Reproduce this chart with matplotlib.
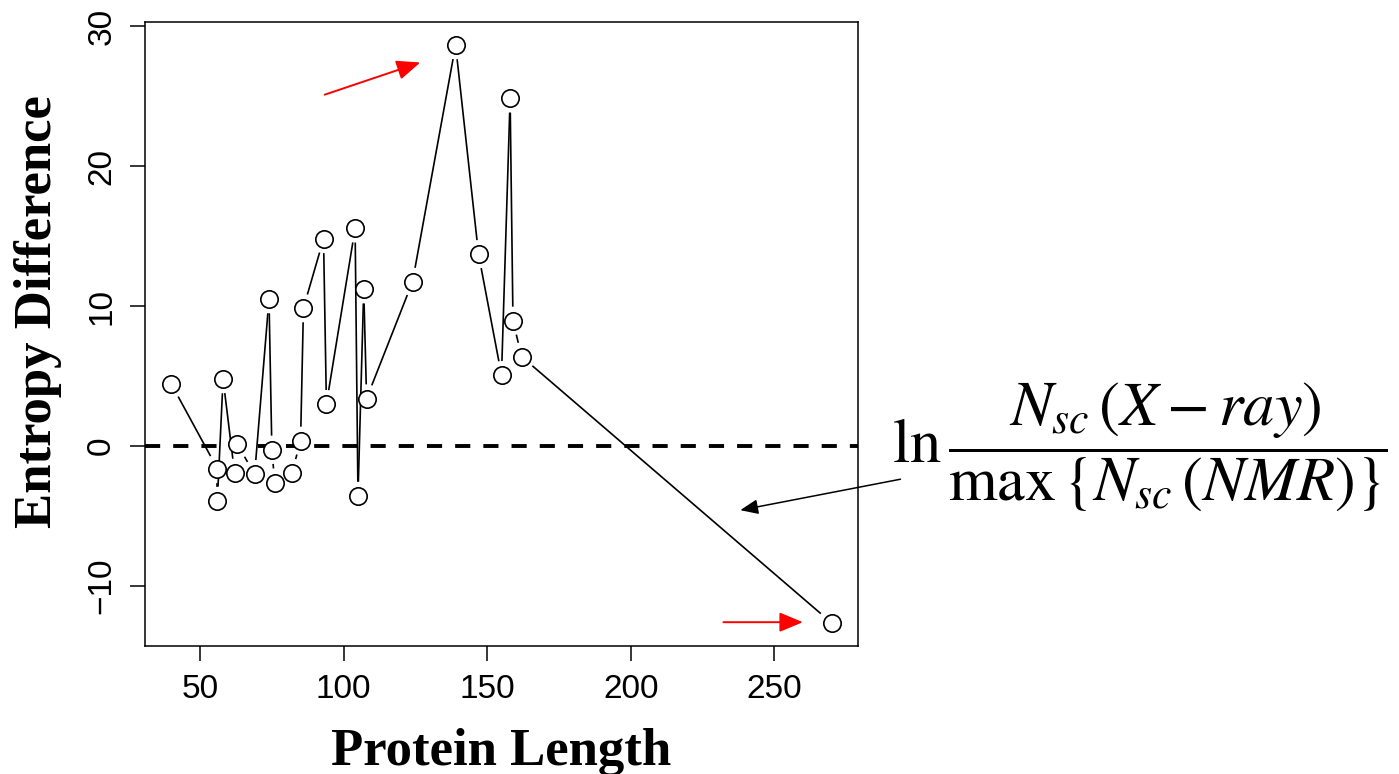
import numpy as np
import matplotlib
matplotlib.use('Agg')
import matplotlib.pyplot as plt
from matplotlib.lines import Line2D

# protein length vs entropy difference, in the order the points are joined
length = [40, 56, 56, 58, 62, 63, 69, 74, 75, 76, 82, 85, 86, 93, 94,
          104, 105, 107, 108, 124, 139, 147, 155, 158, 159, 162, 270]
entropy_diff = [4.43, -1.6, -3.9, 4.79, -1.9, 0.12, -2.0, 10.5, -0.26, -2.6,
                -1.9, 0.38, 9.86, 14.8, 3.0, 15.55, -3.55, 11.2, 3.4, 11.74,
                28.64, 13.71, 5.07, 24.83, 8.95, 6.4, -12.62]
x_ticks = [50, 100, 150, 200, 250]
y_ticks = [-10, 0, 10, 20, 30]

plt.rcParams.update({
    'font.family': ['Liberation Sans', 'DejaVu Sans'],
    'mathtext.fontset': 'stix',
    'axes.linewidth': 1.1,
})

W, H = 1399, 774
fig = plt.figure(figsize=(W / 100, H / 100), dpi=100)
ax = fig.add_axes([145 / W, 1 - 646 / H, (858 - 145) / W, (646 - 22) / H])

x = np.array(length, dtype=float)
y = np.array(entropy_diff, dtype=float)

# R-style 4% padding on both axes
def padded(v):
    r = v.max() - v.min()
    return v.min() - 0.04 * r, v.max() + 0.04 * r

ax.set_xlim(*padded(x))
ax.set_ylim(*padded(y))

ax.axhline(0, color='black', lw=2.8, linestyle=(0, (3.9, 3.35)), zorder=1)

# type="b": segments stop short of each point
gap = 15.0
pix = ax.transData.transform(np.column_stack([x, y]))
inv = ax.transData.inverted()
for p0, p1 in zip(pix[:-1], pix[1:]):
    d = p1 - p0
    n = np.hypot(*d)
    if n <= 2 * gap:
        continue
    u = d / n
    a = inv.transform(p0 + u * gap)
    b = inv.transform(p1 - u * gap)
    ax.add_line(Line2D([a[0], b[0]], [a[1], b[1]], color='black', lw=1.2, zorder=2))

ax.plot(x, y, linestyle='none', marker='o', markersize=12.5,
        markerfacecolor='white', markeredgecolor='black', markeredgewidth=1.2,
        zorder=3)

ax.set_xticks(x_ticks)
ax.set_yticks(y_ticks)
ax.tick_params(axis='both', length=11, width=1.1, labelsize=24, pad=9)
plt.setp(ax.get_yticklabels(), rotation=90, va='center')

ax.set_xlabel('Protein Length', fontfamily='Liberation Serif',
              fontweight='bold', fontsize=38, va='baseline')
ax.xaxis.set_label_coords(0.5, (646 - 765) / 624)
ax.set_ylabel('Entropy Difference', fontfamily='Liberation Serif',
              fontweight='bold', fontsize=38, va='center')
ax.yaxis.set_label_coords((38 - 145) / 713, (646 - 312) / 624)

# arrows
red = dict(arrowstyle='-|>,head_length=0.6,head_width=0.25', color='red',
           lw=1.4, mutation_scale=24, shrinkA=0, shrinkB=0)
ax.annotate('', xy=(126.7, 27.4), xytext=(93.4, 25.1), arrowprops=red)
ax.annotate('', xy=(260.0, -12.57), xytext=(232.3, -12.57), arrowprops=red)
ax.annotate('', xy=(238.2, -4.57), xytext=(294.0, -2.36), annotation_clip=False,
            arrowprops=dict(arrowstyle='-|>,head_length=0.6,head_width=0.25',
                            color='black', lw=1.1, mutation_scale=18,
                            shrinkA=0, shrinkB=0))

fig.text(892 / W, 1 - 447 / H,
         r'$\ln\dfrac{N_{sc}\,(X-ray)}{\max\,\{N_{sc}\,(NMR)\}}$',
         fontsize=45, ha='left', va='center')

fig.savefig('out.png', dpi=100)
